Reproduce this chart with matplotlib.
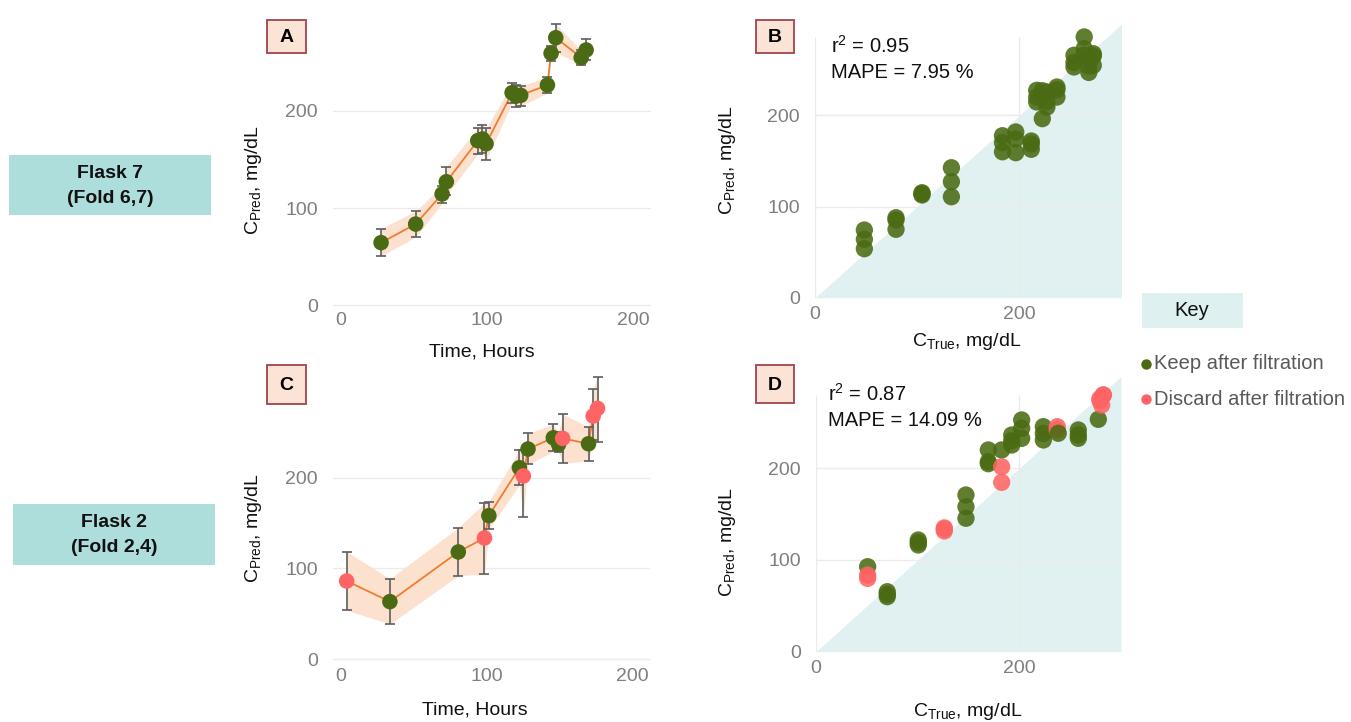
import matplotlib
matplotlib.use('Agg')
import matplotlib.pyplot as plt
from matplotlib.patches import Rectangle
from matplotlib.lines import Line2D
import numpy as np

plt.rcParams['font.family'] = ['Liberation Sans', 'DejaVu Sans']
plt.rcParams['mathtext.fontset'] = 'custom'
plt.rcParams['mathtext.rm'] = 'Liberation Sans'
plt.rcParams['mathtext.it'] = 'Liberation Sans:italic'
plt.rcParams['mathtext.bf'] = 'Liberation Sans:bold'

# ---------------- data ----------------
# Panel A: Flask 7 time course (mean prediction, error-bar bounds)
a_time = [27.4, 51.1, 69.2, 72.1, 93.6, 96.8, 99.3, 117.1, 119.9, 123.0, 141.3, 143.8, 147.0, 164.4, 167.8]
a_pred = [64.4, 83.5, 114.4, 127.0, 169.2, 170.9, 166.0, 218.5, 215.0, 215.8, 226.4, 259.0, 275.0, 254.5, 262.4]
a_low = [50.7, 70.2, 104.8, 113.0, 155.5, 157.0, 149.3, 208.0, 204.0, 205.0, 218.0, 251.0, 260.0, 247.0, 252.0]
a_high = [78.8, 96.9, 122.9, 142.4, 181.9, 185.3, 181.9, 228.0, 226.0, 225.0, 235.0, 266.5, 289.0, 262.0, 273.7]

# Panel B: Flask 7 predicted vs true
b_true = [48.3, 48.3, 48.3, 79.3, 79.3, 79.3, 104.7, 104.7, 104.7, 133.5, 133.5, 133.5,
          183.5, 183.5, 183.5, 196.5, 196.5, 196.5, 211.7, 211.7, 211.7,
          217.0, 217.0, 217.0, 222.5, 222.5, 222.5, 227.0, 227.0, 227.0,
          236.8, 236.8, 236.8, 253.5, 253.5, 253.5, 263.5, 263.5, 263.5,
          268.0, 268.0, 268.0, 272.4, 272.4, 272.4]
b_pred = [74.2, 64.0, 53.7, 87.7, 85.2, 75.0, 115.1, 112.6, 114.0, 142.5, 127.2, 110.7,
          177.6, 170.0, 160.0, 181.7, 174.0, 159.0, 171.8, 168.5, 162.7,
          227.4, 214.6, 220.0, 196.3, 227.0, 221.0, 209.0, 225.5, 215.0,
          231.0, 220.0, 228.0, 265.8, 253.0, 258.0, 285.9, 273.0, 266.0,
          262.0, 254.0, 247.0, 267.5, 254.8, 265.0]
b_r2 = 0.95
b_mape = 7.95

# Panel C: Flask 2 time course
c_time = [3.9, 33.6, 80.6, 98.6, 101.6, 122.6, 125.3, 128.5, 145.9, 149.5, 152.3, 170.1, 173.3, 176.3]
c_pred = [86.2, 63.5, 118.2, 133.6, 158.2, 211.0, 201.9, 231.6, 244.0, 236.8, 243.3, 237.4, 268.0, 276.4]
c_low = [54.0, 38.9, 92.0, 94.0, 143.5, 192.0, 157.0, 214.7, 229.0, 228.0, 215.8, 218.7, 241.0, 239.6]
c_high = [118.5, 88.8, 145.0, 172.0, 173.6, 230.5, 230.0, 248.8, 258.8, 250.0, 269.8, 256.0, 298.0, 311.0]
c_status = ['discard', 'keep', 'keep', 'discard', 'keep', 'keep', 'discard', 'keep',
            'keep', 'keep', 'discard', 'keep', 'discard', 'discard']

# Panel D: Flask 2 predicted vs true
d_true = [50.8, 50.8, 50.8, 70.1, 70.1, 70.1, 100.6, 100.6, 100.6, 126.2, 126.2, 126.2,
          147.5, 147.5, 147.5, 169.5, 169.5, 169.5, 182.6, 182.6, 182.6,
          192.5, 192.5, 192.5, 202.3, 202.3, 202.3, 223.6, 223.6, 223.6,
          237.3, 237.3, 238.3, 258.0, 258.0, 258.0, 277.7, 279.3, 279.3,
          282.6, 281.0, 282.6]
d_pred = [92.7, 83.6, 80.0, 65.4, 60.0, 62.5, 121.8, 116.4, 119.0, 133.8, 131.7, 135.0,
          170.9, 158.1, 145.5, 220.0, 207.2, 205.0, 220.0, 201.7, 184.7,
          236.3, 225.4, 230.0, 252.7, 243.6, 232.7, 245.4, 230.9, 238.0,
          245.4, 241.8, 238.2, 241.8, 232.7, 236.5, 253.4, 276.0, 274.0,
          280.0, 269.0, 280.0]
d_status = ['keep', 'discard', 'discard', 'keep', 'keep', 'keep', 'keep', 'keep', 'keep',
            'discard', 'discard', 'discard', 'keep', 'keep', 'keep', 'keep', 'keep', 'keep',
            'keep', 'discard', 'discard', 'keep', 'keep', 'keep', 'keep', 'keep', 'keep',
            'keep', 'keep', 'keep', 'discard', 'discard', 'keep', 'keep', 'keep', 'keep',
            'keep', 'discard', 'discard', 'discard', 'discard', 'discard']
d_r2 = 0.87
d_mape = 14.09

time_ticks = [0, 100, 200]
conc_ticks = [0, 100, 200]

# ---------------- style ----------------
GREEN = '#4A6B13'
PINK = '#FF6464'
ORANGE = '#F07D2E'
RIBBON = '#FCE1CF'
TRI = '#E1F0F1'
GRID = '#EBEBEB'
TICK = '#7F7F7F'
ERR = '#5E5E5E'
colmap = {'keep': GREEN, 'discard': PINK}

W, H = 1351, 722
fig = plt.figure(figsize=(W / 100, H / 100), dpi=100)


def rect(l, t, r, b):
    return [l / W, 1 - b / H, (r - l) / W, (b - t) / H]


def style(ax, xpad, ypad):
    for s in ax.spines.values():
        s.set_visible(False)
    ax.tick_params(length=0, labelsize=14, labelcolor=TICK)
    ax.tick_params(axis='x', pad=xpad)
    ax.tick_params(axis='y', pad=ypad)


def timecourse(ax, t, p, lo, hi, status, ylim):
    t = np.array(t); p = np.array(p); lo = np.array(lo); hi = np.array(hi)
    ax.set_xlim(-5.5, 212)
    ax.set_ylim(*ylim)
    ax.set_xticks(time_ticks)
    ax.set_yticks(conc_ticks)
    ax.yaxis.grid(True, color=GRID, lw=1)
    ax.set_axisbelow(True)
    ax.fill_between(t, lo, hi, color=RIBBON, lw=0, zorder=1)
    ax.plot(t, p, color=ORANGE, lw=1.3, zorder=2)
    ax.errorbar(t, p, yerr=[p - lo, hi - p], fmt='none', ecolor=ERR, elinewidth=1.2,
                capsize=3.5, capthick=1.2, zorder=3)
    cols = [colmap[s] for s in status]
    ax.scatter(t, p, s=125, c=cols, edgecolors='none', zorder=4)


def parity(ax, tr, pr, status, gtop):
    ax.set_xlim(0, 300)
    ax.set_ylim(0, 300)
    ax.set_xticks([0, 200])
    ax.set_yticks(conc_ticks)
    ax.fill_between([0, 300], [0, 0], [0, 300], color=TRI, lw=0, zorder=0)
    ax.hlines([100, 200], 0, 300, color=GRID, lw=1, zorder=0.5)
    ax.vlines([0, 200], 0, gtop, color=GRID, lw=1, zorder=0.5)
    cols = [colmap[s] for s in status]
    ax.scatter(tr, pr, s=155, c=cols, alpha=0.88, edgecolors='none', zorder=3)


# Panel A
axA = fig.add_axes(rect(333, 20.2, 650.7, 310.2))
timecourse(axA, a_time, a_pred, a_low, a_high, ['keep'] * len(a_time), (-5, 293))
style(axA, 1, 11)

# Panel C
axC = fig.add_axes(rect(333, 370.6, 649.5, 663.8))
timecourse(axC, c_time, c_pred, c_low, c_high, c_status, (-5, 318))
style(axC, 3, 11)

# Panel B
axB = fig.add_axes(rect(815, 24.1, 1121.5, 297.7))
parity(axB, b_true, b_pred, ['keep'] * len(b_true), 286)
style(axB, 6, 11)

# Panel D
axD = fig.add_axes(rect(816, 376.6, 1121, 651.7))
parity(axD, d_true, d_pred, d_status, 280)
style(axD, 6, 11)


def ftext(x, y, s, **kw):
    return fig.text(x / W, 1 - y / H, s, **kw)


ylab = r'C$_\mathregular{Pred}$, mg/dL'
xlab_true = r'C$_\mathregular{True}$, mg/dL'
for (x, y) in [(253, 180), (253, 528), (728, 160), (728, 542)]:
    ftext(x, y, ylab, rotation=90, ha='center', va='center', fontsize=14, color='#111111')
for (x, y) in [(481.7, 351.7), (475, 710)]:
    ftext(x, y, 'Time, Hours', ha='center', va='center', fontsize=14, color='#111111')
for (x, y) in [(966.7, 341.7), (968, 711.7)]:
    ftext(x, y, xlab_true, ha='center', va='center', fontsize=14, color='#111111')

# Annotations
ftext(831, 53, r'r$^\mathregular{2}$ = %.2f' % b_r2, ha='left', va='baseline', fontsize=14.5, color='#111111')
ftext(831, 78.3, 'MAPE = %.2f %%' % b_mape, ha='left', va='baseline', fontsize=14.5, color='#111111')
ftext(827.7, 401, r'r$^\mathregular{2}$ = %.2f' % d_r2, ha='left', va='baseline', fontsize=14.5, color='#111111')
ftext(827.7, 425.7, 'MAPE = %.2f %%' % d_mape, ha='left', va='baseline', fontsize=14.5, color='#111111')


def fbox(l, t, r, b, fc, ec=None, lw=0):
    fig.add_artist(Rectangle((l / W, 1 - b / H), (r - l) / W, (b - t) / H, transform=fig.transFigure,
                             facecolor=fc, edgecolor=ec if ec else fc, linewidth=lw, zorder=5))


# Panel letter boxes
for (l, t, r, b, s) in [(267, 20, 306, 53, 'A'), (756, 20, 794, 53, 'B'),
                        (267, 365, 306, 404, 'C'), (756, 365, 794, 403, 'D')]:
    fbox(l, t, r, b, '#FBE3D6', '#A0434C', 1.3)
    ftext((l + r) / 2, (t + b) / 2 + 1, s, ha='center', va='center', fontsize=14,
          fontweight='bold', color='black', zorder=6)

# Flask labels
fbox(9, 155, 211, 215, '#AEDEDC')
ftext(110, 173.5, 'Flask 7', ha='center', va='center', fontsize=14, fontweight='bold',
      color='#111111', zorder=6)
ftext(110, 198.5, '(Fold 6,7)', ha='center', va='center', fontsize=14, fontweight='bold',
      color='#111111', zorder=6)
fbox(13, 504, 215, 565, '#AEDEDC')
ftext(114, 522.5, 'Flask 2', ha='center', va='center', fontsize=14, fontweight='bold',
      color='#111111', zorder=6)
ftext(114, 547.5, '(Fold 2,4)', ha='center', va='center', fontsize=14, fontweight='bold',
      color='#111111', zorder=6)

# Key
fbox(1142, 293, 1243, 328, '#DFF0F1')
ftext(1192, 311, 'Key', ha='center', va='center', fontsize=14.5, color='#111111', zorder=6)
for (y, c, s) in [(364, GREEN, 'Keep after filtration'), (399, PINK, 'Discard after filtration')]:
    fig.add_artist(Line2D([1146 / W], [1 - y / H], marker='o', markersize=7.5, color=c,
                          markeredgewidth=0, transform=fig.transFigure))
    ftext(1154, y, s, ha='left', va='center', fontsize=14.5, color='#595959')

fig.savefig('out.png', dpi=100)
